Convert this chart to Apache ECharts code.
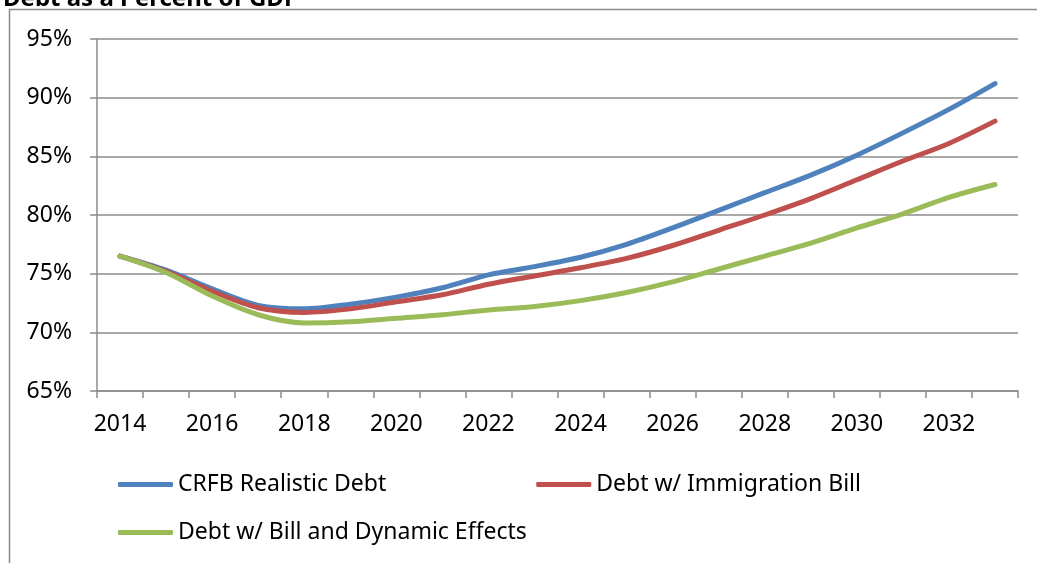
<!DOCTYPE html>
<html>
<head>
<meta charset="utf-8">
<script src="https://cdn.jsdelivr.net/npm/echarts@6/dist/echarts.min.js"></script>
<style>
  html, body { margin: 0; padding: 0; background: #fff; }
  #chart { width: 1037px; height: 563px; }
</style>
</head>
<body>
<div id="chart"></div>
<script>
// Debt as a percent of GDP, 2014-2033
const years = ['2014','2015','2016','2017','2018','2019','2020','2021','2022','2023',
               '2024','2025','2026','2027','2028','2029','2030','2031','2032','2033'];

const crfbRealistic = [76.5, 75.3, 73.7, 72.3, 72.0, 72.4, 73.0, 73.8, 74.9, 75.6,
                       76.4, 77.5, 78.9, 80.4, 81.9, 83.4, 85.1, 87.0, 89.0, 91.2];

const immigrationBill = [76.5, 75.2, 73.5, 72.1, 71.7, 72.0, 72.6, 73.2, 74.1, 74.8,
                         75.5, 76.3, 77.4, 78.7, 80.0, 81.4, 83.0, 84.6, 86.1, 88.0];

const dynamicEffects = [76.5, 75.1, 73.1, 71.5, 70.8, 70.9, 71.2, 71.5, 71.9, 72.2,
                        72.7, 73.4, 74.3, 75.4, 76.5, 77.6, 78.9, 80.1, 81.5, 82.6];

const seriesNames = ['CRFB Realistic Debt', 'Debt w/ Immigration Bill', 'Debt w/ Bill and Dynamic Effects'];
const seriesColors = ['#4F81BD', '#C0504D', '#9BBB59'];

const FONT = '"Noto Sans", "Open Sans", sans-serif';
const GRID_GRAY = '#8c8c8c';

const chart = echarts.init(document.getElementById('chart'), null, { renderer: 'canvas' });

function lineSeries(name, data, color) {
  return {
    name: name,
    type: 'line',
    data: data,
    smooth: 0.3,
    symbol: 'none',
    lineStyle: { color: color, width: 5, cap: 'round', join: 'round' },
    itemStyle: { color: color },
    emphasis: { disabled: true }
  };
}

const legendText = { fontFamily: FONT, fontSize: 23, color: '#000' };

chart.setOption({
  animation: false,
  backgroundColor: '#fff',
  title: {
    text: 'Debt as a Percent of GDP',
    left: -2,
    top: -18,
    textStyle: { fontFamily: FONT, fontSize: 24, fontWeight: 'bold', color: '#000' }
  },
  graphic: [{
    type: 'rect',
    shape: { x: 9.5, y: 9.5, width: 1100, height: 700 },
    style: { fill: 'none', stroke: '#8a8a8a', lineWidth: 1.5 },
    silent: true
  }],
  grid: { left: 97, right: 19, top: 39, bottom: 172, containLabel: false },
  legend: [{
    data: [seriesNames[0], seriesNames[1]],
    left: 118,
    top: 473,
    padding: 0,
    icon: 'roundRect',
    itemWidth: 55,
    itemHeight: 5,
    itemGap: 150,
    textStyle: legendText,
    selectedMode: false
  }, {
    data: [seriesNames[2]],
    left: 118,
    top: 521,
    padding: 0,
    icon: 'roundRect',
    itemWidth: 55,
    itemHeight: 5,
    textStyle: legendText,
    selectedMode: false
  }],
  xAxis: {
    type: 'category',
    data: years,
    boundaryGap: true,
    axisLine: { show: true, lineStyle: { color: GRID_GRAY, width: 1.5 } },
    axisTick: { show: true, interval: 0, length: 7, lineStyle: { color: GRID_GRAY, width: 1.5 } },
    axisLabel: { interval: 1, margin: 22, fontFamily: FONT, fontSize: 23, color: '#000' },
    splitLine: { show: false }
  },
  yAxis: {
    type: 'value',
    min: 65,
    max: 95,
    interval: 5,
    axisLine: { show: true, lineStyle: { color: GRID_GRAY, width: 1.5 } },
    axisTick: { show: true, length: 7, lineStyle: { color: GRID_GRAY, width: 1.5 } },
    axisLabel: { formatter: '{value}%', margin: 25, fontFamily: FONT, fontSize: 23, color: '#000' },
    splitLine: { show: true, lineStyle: { color: GRID_GRAY, width: 1.5 } }
  },
  series: [
    lineSeries(seriesNames[0], crfbRealistic, seriesColors[0]),
    lineSeries(seriesNames[1], immigrationBill, seriesColors[1]),
    lineSeries(seriesNames[2], dynamicEffects, seriesColors[2])
  ]
});
</script>
</body>
</html>
